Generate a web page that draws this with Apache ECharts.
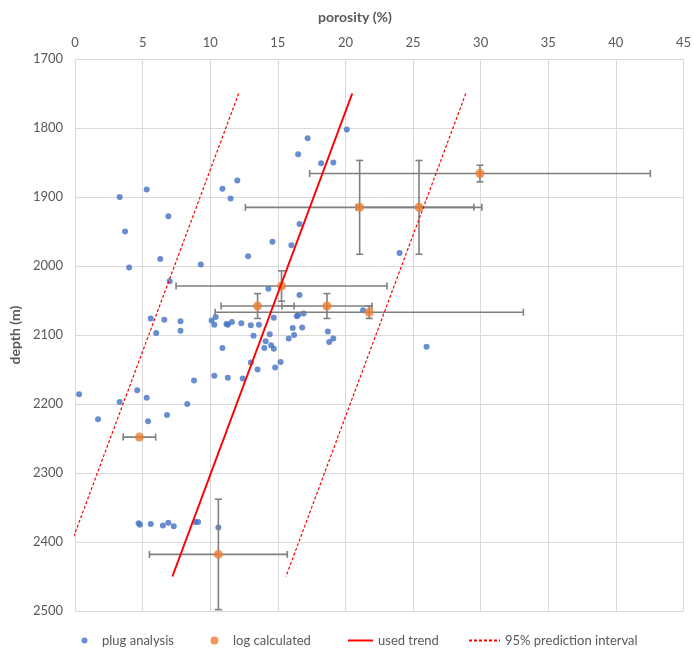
<!DOCTYPE html>
<html>
<head>
<meta charset="utf-8">
<script src="https://cdn.jsdelivr.net/npm/echarts@6/dist/echarts.min.js"></script>
<style>
  html, body { margin: 0; padding: 0; background: #fff; }
  #chart { width: 694px; height: 648px; }
</style>
</head>
<body>
<div id="chart"></div>
<script>
// Plug analysis: core plug porosity (%) and sample depth (m)
const plugPorosity = [
  20.1, 17.2, 16.5, 18.2, 19.1, 5.3, 3.3, 10.9, 12.0, 11.5,
  6.9, 3.7, 16.6, 14.6, 16.0, 6.3, 12.8, 4.0, 9.3, 7.0,
  14.3, 16.6, 21.3, 24.0, 26.0, 5.6, 6.6, 7.8, 7.8, 6.0,
  10.1, 10.4, 10.3, 11.2, 11.3, 11.6, 12.3, 13.0, 13.6, 14.7,
  16.4, 16.5, 16.9, 16.1, 16.8, 18.7, 13.2, 14.4, 14.1, 14.5,
  14.7, 14.0, 15.8, 16.2, 18.8, 19.1, 10.9, 13.0, 13.5, 14.8,
  15.2, 10.3, 11.3, 12.4, 8.8, 0.3, 3.3, 4.6, 5.3, 8.3,
  1.7, 5.4, 6.8, 4.7, 4.8, 5.6, 6.5, 6.9, 7.3, 8.9,
  9.1, 10.6
];
const plugDepth = [
  1802, 1815, 1838, 1851, 1850, 1889, 1900, 1888, 1876, 1902,
  1928, 1950, 1939, 1965, 1970, 1990, 1986, 2002, 1998, 2022,
  2033, 2042, 2064, 1981, 2117, 2076, 2078, 2080, 2094, 2097,
  2079, 2074, 2085, 2084, 2085, 2081, 2083, 2086, 2085, 2075,
  2073, 2071, 2069, 2090, 2089, 2095, 2101, 2099, 2109, 2115,
  2120, 2119, 2105, 2100, 2110, 2105, 2119, 2140, 2150, 2147,
  2139, 2159, 2162, 2163, 2166, 2186, 2197, 2180, 2191, 2200,
  2222, 2225, 2216, 2373, 2375, 2374, 2376, 2372, 2377, 2371,
  2371, 2379
];

// Log-calculated porosity with its uncertainty (± porosity, ± depth)
const logPorosity = [29.95, 21.05, 25.44, 15.27, 13.5, 18.63, 21.76, 4.76, 10.6];
const logDepth    = [1866, 1915, 1915, 2029, 2058, 2058, 2067, 2248, 2418];
const logPorErr   = [12.6, 8.45, 4.65, 7.8, 2.7, 3.33, 11.4, 1.2, 5.1];
const logDepthErr = [12, 68, 68, 22, 18, 18, 9, 0, 80];

// Trend line and 95% prediction interval (porosity at the two end depths)
const trendDepth = [1750, 2450];
const trendPorosity = [20.5, 7.2];
const lowerPorosity = [12.1, -1.2];
const upperPorosity = [28.9, 15.6];

// Axis ticks
const porosityTicks = { min: 0, max: 45, step: 5 };
const depthTicks = { min: 1700, max: 2500, step: 100 };

const FONT = 'Lato';
const TEXT = '#595959';
const GRID = '#D9D9D9';
const BLUE = '#4472C4';
const ORANGE = '#ED7D31';
const RED = '#FF0000';
const BAR = '#7F7F7F';

const zip = (xs, ys) => xs.map((x, i) => [x, ys[i]]);
const errorData = logPorosity.map((p, i) => [p, logDepth[i], logPorErr[i], logDepthErr[i]]);

function renderErrorBar(params, api) {
  const x = api.value(0), y = api.value(1), ex = api.value(2), ey = api.value(3);
  const cap = 3.5;
  const style = { stroke: BAR, lineWidth: 1.6 };
  const children = [];
  if (ex > 0) {
    const l = api.coord([x - ex, y]);
    const r = api.coord([x + ex, y]);
    children.push(
      { type: 'line', shape: { x1: l[0], y1: l[1], x2: r[0], y2: r[1] }, style },
      { type: 'line', shape: { x1: l[0], y1: l[1] - cap, x2: l[0], y2: l[1] + cap }, style },
      { type: 'line', shape: { x1: r[0], y1: r[1] - cap, x2: r[0], y2: r[1] + cap }, style }
    );
  }
  if (ey > 0) {
    const t = api.coord([x, y - ey]);
    const b = api.coord([x, y + ey]);
    children.push(
      { type: 'line', shape: { x1: t[0], y1: t[1], x2: b[0], y2: b[1] }, style },
      { type: 'line', shape: { x1: t[0] - cap, y1: t[1], x2: t[0] + cap, y2: t[1] }, style },
      { type: 'line', shape: { x1: b[0] - cap, y1: b[1], x2: b[0] + cap, y2: b[1] }, style }
    );
  }
  return { type: 'group', children };
}

const legendBase = {
  top: 629,
  itemGap: 0,
  textStyle: { color: TEXT, fontFamily: FONT, fontSize: 13 },
  selectedMode: false
};
// line legends show only the stroke, no marker
const lineLegend = { itemStyle: { opacity: 0 } };

const chart = echarts.init(document.getElementById('chart'), null, { renderer: 'canvas' });
chart.setOption({
  animation: false,
  backgroundColor: '#ffffff',
  grid: { left: 74, top: 59, right: 8, bottom: 37 },
  graphic: [{
    type: 'text', left: 318, top: 10,
    style: { text: 'porosity (%)', fill: TEXT, font: 'bold 14px ' + FONT }
  }],
  legend: [
    Object.assign({}, legendBase, { left: 76.5, itemWidth: 25, itemHeight: 6, data: ['plug analysis'] }),
    Object.assign({}, legendBase, { left: 205.5, itemWidth: 27, itemHeight: 8, data: ['log calculated'] }),
    Object.assign({}, legendBase, lineLegend, { left: 342, itemWidth: 25, itemHeight: 8, data: ['used trend'] }),
    Object.assign({}, legendBase, lineLegend, { left: 463, itemWidth: 31, itemHeight: 8, data: ['95% prediction interval'] })
  ],
  xAxis: {
    type: 'value', position: 'top',
    min: porosityTicks.min, max: porosityTicks.max, interval: porosityTicks.step,
    axisLine: { show: false }, axisTick: { show: false },
    axisLabel: { color: TEXT, fontFamily: FONT, fontSize: 13, margin: 10 },
    splitLine: { show: true, lineStyle: { color: GRID, width: 1 } }
  },
  yAxis: {
    type: 'value', inverse: true,
    min: depthTicks.min, max: depthTicks.max, interval: depthTicks.step,
    name: 'depth (m)', nameLocation: 'middle', nameGap: 42,
    nameTextStyle: { color: TEXT, fontFamily: FONT, fontSize: 14, fontWeight: 'bold' },
    axisLine: { show: false }, axisTick: { show: false },
    axisLabel: { color: TEXT, fontFamily: FONT, fontSize: 13, margin: 12, formatter: v => String(v) },
    splitLine: { show: true, lineStyle: { color: GRID, width: 1 } }
  },
  series: [
    {
      name: 'plug analysis', type: 'scatter',
      data: zip(plugPorosity, plugDepth),
      symbol: 'circle', symbolSize: 6,
      itemStyle: { color: BLUE }
    },
    {
      name: 'log error', type: 'custom',
      data: errorData, renderItem: renderErrorBar,
      encode: { x: 0, y: 1 }, z: 3, silent: true
    },
    {
      name: 'log calculated', type: 'scatter',
      data: zip(logPorosity, logDepth),
      symbol: 'circle', symbolSize: 9, z: 4,
      itemStyle: { color: ORANGE }
    },
    {
      name: 'used trend', type: 'line',
      data: zip(trendPorosity, trendDepth),
      symbol: 'none', z: 5,
      lineStyle: { color: RED, width: 2 },
      itemStyle: { color: RED }
    },
    {
      name: '95% prediction interval', type: 'line',
      data: zip(lowerPorosity, trendDepth),
      symbol: 'none', z: 5,
      lineStyle: { color: RED, width: 1.2, type: [3, 2] },
      itemStyle: { color: RED }
    },
    {
      name: '95% prediction interval', type: 'line',
      data: zip(upperPorosity, trendDepth),
      symbol: 'none', z: 5,
      lineStyle: { color: RED, width: 1.2, type: [3, 2] },
      itemStyle: { color: RED }
    }
  ]
});
</script>
</body>
</html>
